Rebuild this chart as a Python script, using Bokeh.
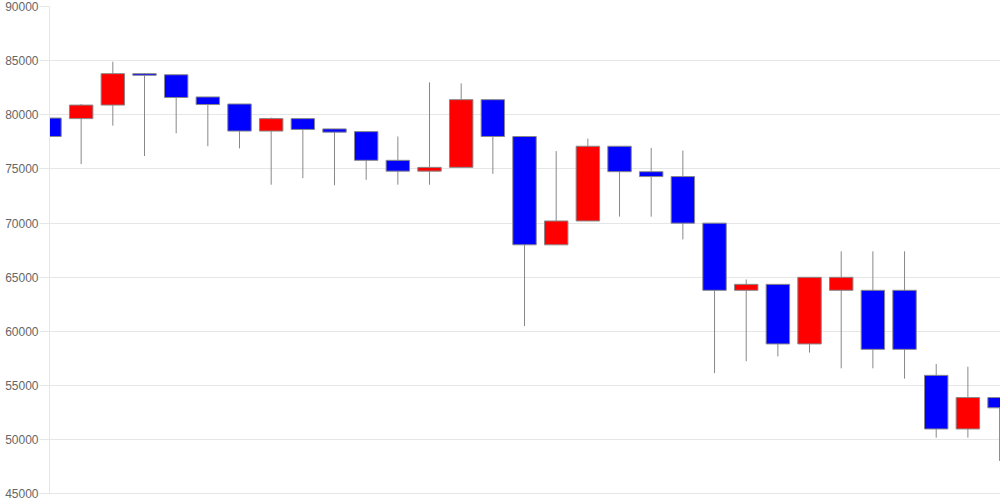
from bokeh.plotting import figure
from bokeh.models import ColumnDataSource, Range1d, FixedTicker, NumeralTickFormatter
from bokeh.embed import file_html
from bokeh.resources import INLINE

# Daily OHLC values
opens = [79700, 79650, 80900, 83800, 83700, 81650, 81000, 78500, 79650, 78700,
         78450, 75800, 74800, 75150, 81400, 78000, 68000, 70200, 77100, 74750,
         74300, 70000, 63800, 64350, 58850, 63800, 63800, 63800, 55950, 51000,
         53900]
highs = [80000, 81000, 84900, 83850, 83700, 81650, 81000, 79750, 79650, 78700,
         78450, 78000, 83000, 82900, 81400, 78000, 76650, 77800, 77100, 76950,
         76700, 70000, 64800, 64350, 65000, 67400, 67400, 67400, 57000, 56750,
         53900]
lows = [75000, 75450, 79000, 76200, 78300, 77100, 76900, 73550, 74150, 73500,
        74000, 73550, 73550, 75150, 74550, 60500, 68000, 70200, 70600, 70600,
        68500, 56150, 57250, 57700, 58050, 56600, 56600, 55650, 50200, 50200,
        48050]
closes = [78000, 80900, 83800, 83650, 81600, 80950, 78500, 79650, 78650, 78400,
          75800, 74800, 75150, 81400, 78000, 68000, 70200, 77100, 74750, 74300,
          70000, 63800, 64350, 58850, 65000, 65000, 58350, 58350, 51000, 53900,
          52950]
y_ticks = [45000, 50000, 55000, 60000, 65000, 70000, 75000, 80000, 85000, 90000]

idx = list(range(len(opens)))
colors = ["#ff0000" if c >= o else "#0000ff" for o, c in zip(opens, closes)]
tops = [max(o, c) for o, c in zip(opens, closes)]
bots = [min(o, c) for o, c in zip(opens, closes)]

src = ColumnDataSource(dict(x=idx, high=highs, low=lows, top=tops, bottom=bots, color=colors))

p = figure(width=1000, height=500, output_backend="svg", toolbar_location=None,
           x_range=Range1d(0, len(opens) - 1 + 0.03), y_range=Range1d(44950, 90000),
           min_border_left=49, min_border_right=0, min_border_top=6, min_border_bottom=6)
p.styles = {"position": "absolute", "top": "0px", "left": "0px"}
p.outline_line_color = None
p.background_fill_color = "white"
p.border_fill_color = "white"

p.xaxis.visible = False
p.xgrid.visible = False
p.ygrid.grid_line_color = "#e6e6e6"
p.ygrid.grid_line_width = 1

p.yaxis.ticker = FixedTicker(ticks=y_ticks)
p.yaxis.formatter = NumeralTickFormatter(format="0")
p.yaxis.axis_line_color = "#e6e6e6"
p.yaxis.major_tick_line_color = "#e6e6e6"
p.yaxis.major_tick_out = 10
p.yaxis.major_tick_in = 0
p.yaxis.minor_tick_line_color = None
p.yaxis.major_label_standoff = 1
p.yaxis.major_label_text_font = "Liberation Sans"
p.yaxis.major_label_text_font_size = "12px"
p.yaxis.major_label_text_color = "#666666"

p.segment(x0="x", y0="high", x1="x", y1="low", source=src, line_color="#888888", line_width=1)
p.vbar(x="x", width=0.74, top="top", bottom="bottom", source=src,
       fill_color="color", line_color="#888888", line_width=1)

open("out.html", "w").write(file_html(p, INLINE))
